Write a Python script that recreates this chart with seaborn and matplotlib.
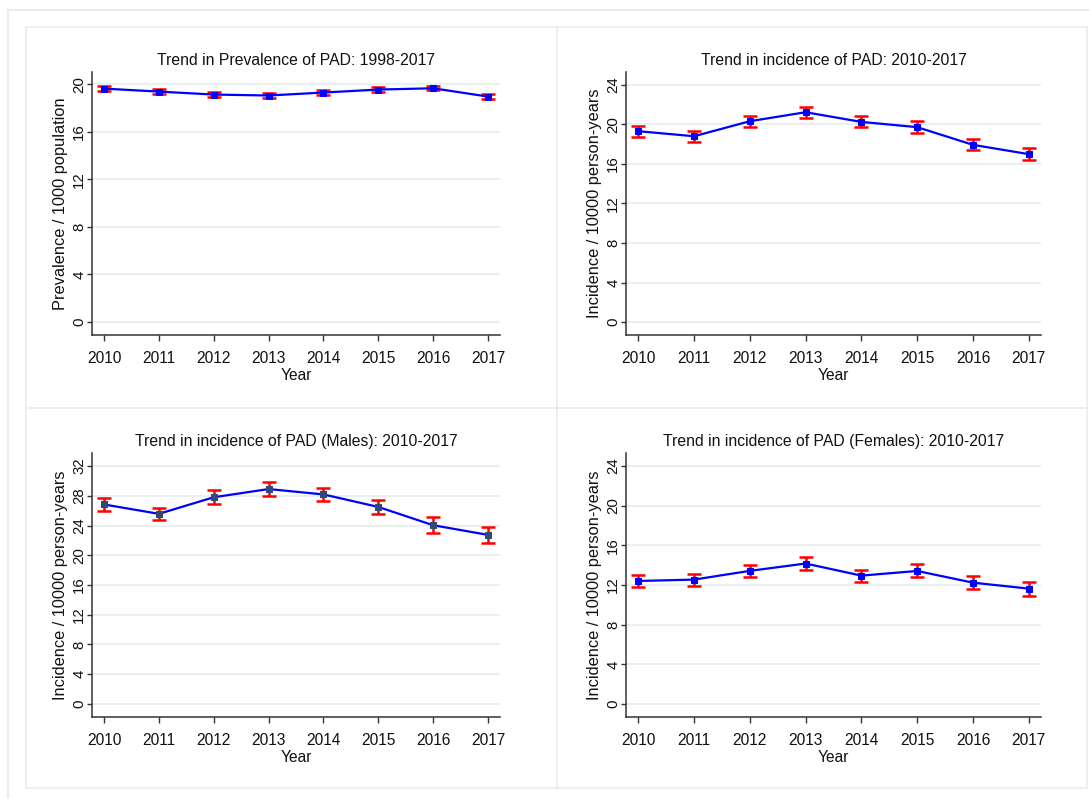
import matplotlib
matplotlib.use("Agg")
import matplotlib.pyplot as plt
from matplotlib.lines import Line2D
import seaborn as sns
import pandas as pd

years = [2010, 2011, 2012, 2013, 2014, 2015, 2016, 2017]

prev = [19.65, 19.40, 19.15, 19.07, 19.32, 19.57, 19.68, 18.98]
prev_lo = [19.47, 19.22, 18.97, 18.89, 19.14, 19.39, 19.50, 18.80]
prev_hi = [19.83, 19.58, 19.33, 19.25, 19.50, 19.75, 19.86, 19.16]

inc = [19.31, 18.80, 20.32, 21.23, 20.25, 19.72, 17.93, 16.99]
inc_lo = [18.76, 18.26, 19.78, 20.66, 19.70, 19.15, 17.36, 16.37]
inc_hi = [19.86, 19.34, 20.88, 21.80, 20.82, 20.30, 18.52, 17.61]

male = [26.83, 25.57, 27.80, 28.90, 28.18, 26.50, 24.04, 22.74]
male_lo = [25.93, 24.72, 26.88, 27.95, 27.25, 25.58, 23.03, 21.68]
male_hi = [27.73, 26.42, 28.72, 29.88, 29.11, 27.45, 25.08, 23.80]

female = [12.40, 12.54, 13.42, 14.16, 12.94, 13.41, 12.23, 11.63]
female_lo = [11.78, 11.93, 12.80, 13.50, 12.33, 12.77, 11.56, 10.93]
female_hi = [13.02, 13.15, 14.04, 14.83, 13.55, 14.07, 12.94, 12.33]

titles = [
    "Trend in Prevalence of PAD: 1998-2017",
    "Trend in incidence of PAD: 2010-2017",
    "Trend in incidence of PAD (Males): 2010-2017",
    "Trend in incidence of PAD (Females): 2010-2017",
]
ylabels = [
    "Prevalence / 1000 population",
    "Incidence / 10000 person-years",
    "Incidence / 10000 person-years",
    "Incidence / 10000 person-years",
]
yticks_list = [
    [0, 4, 8, 12, 16, 20],
    [0, 4, 8, 12, 16, 20, 24],
    [0, 4, 8, 12, 16, 20, 24, 28, 32],
    [0, 4, 8, 12, 16, 20, 24],
]
ylims = [(-1.1, 21.05), (-1.31, 25.3), (-1.75, 33.75), (-1.31, 25.3)]
xlabel = "Year"

sns.set_theme(style="white")
plt.rcParams['font.family'] = ['Liberation Sans', 'DejaVu Sans']
plt.rcParams['text.color'] = '#111111'
plt.rcParams['axes.labelcolor'] = '#111111'
plt.rcParams['xtick.color'] = '#111111'
plt.rcParams['ytick.color'] = '#111111'

W, H = 1089, 799
fig = plt.figure(figsize=(W / 100, H / 100), dpi=100)
fig.patch.set_facecolor('white')

frame_col = '#e6eded'
def hline(y, x0, x1, lw=1.5):
    fig.add_artist(Line2D([x0 / W, x1 / W], [1 - y / H, 1 - y / H], color=frame_col, lw=lw, transform=fig.transFigure))
def vline(x, y0, y1, lw=1.5):
    fig.add_artist(Line2D([x / W, x / W], [1 - y0 / H, 1 - y1 / H], color=frame_col, lw=lw, transform=fig.transFigure))

hline(10, 8, W)
vline(8, 10, H)
for y in (27, 408, 788):
    hline(y, 26, 1087, lw=1.2)
for x in (26, 557, 1087):
    vline(x, 27, 788, lw=1.2)

boxes = [
    (92, 72, 500, 335),
    (626, 72, 1041, 335),
    (92, 453, 500, 717),
    (626, 453, 1041, 717),
]

datasets = [
    (prev, prev_lo, prev_hi, '#0000ff'),
    (inc, inc_lo, inc_hi, '#0000ff'),
    (male, male_lo, male_hi, '#2f4a73'),
    (female, female_lo, female_hi, '#0000ff'),
]

for i, (box, (vals, lo, hi, mcol)) in enumerate(zip(boxes, datasets)):
    l, t, r, b = box
    ax = fig.add_axes([l / W, 1 - b / H, (r - l) / W, (b - t) / H])
    ax.set_facecolor('white')
    df = pd.DataFrame({"Year": years, "val": vals})
    err_lo = [v - a for v, a in zip(vals, lo)]
    err_hi = [c - v for v, c in zip(vals, hi)]
    ax.errorbar(years, vals, yerr=[err_lo, err_hi], fmt='none', ecolor='#ff0000',
                elinewidth=1.8, capsize=5, capthick=1.8, zorder=3)
    sns.lineplot(data=df, x="Year", y="val", ax=ax, color='#0000ff', lw=1.6,
                 marker='s', markersize=5, markerfacecolor=mcol, markeredgecolor=mcol, zorder=4)
    ax.set_xlim(2009.78, 2017.22)
    ax.set_ylim(*ylims[i])
    ax.set_xticks(years)
    ax.set_xticklabels([str(y) for y in years], fontsize=11.2)
    ax.set_yticks(yticks_list[i])
    ax.set_yticklabels([str(v) for v in yticks_list[i]], rotation=90, va='center',
                       fontsize=10.8)
    ax.yaxis.grid(True, color='#e8f0f1', lw=1.5)
    ax.xaxis.grid(False)
    ax.set_axisbelow(True)
    for s in ('top', 'right'):
        ax.spines[s].set_visible(False)
    for s in ('left', 'bottom'):
        ax.spines[s].set_color('#333333')
        ax.spines[s].set_linewidth(1.1)
    ax.tick_params(axis='x', which='major', length=4.3, width=1.0, color='#333333',
                   pad=7.5, direction='out', bottom=True)
    ax.tick_params(axis='y', which='major', length=3.6, width=1.0, color='#333333',
                   pad=0.5, direction='out', left=True)
    ax.set_xlabel(xlabel, fontsize=11.2, labelpad=1.5)
    ax.set_ylabel(ylabels[i], fontsize=11.8, labelpad=3)
    ax.set_title(titles[i], fontsize=11.3, pad=5.3)

fig.savefig("out.png", dpi=100, facecolor='white')
